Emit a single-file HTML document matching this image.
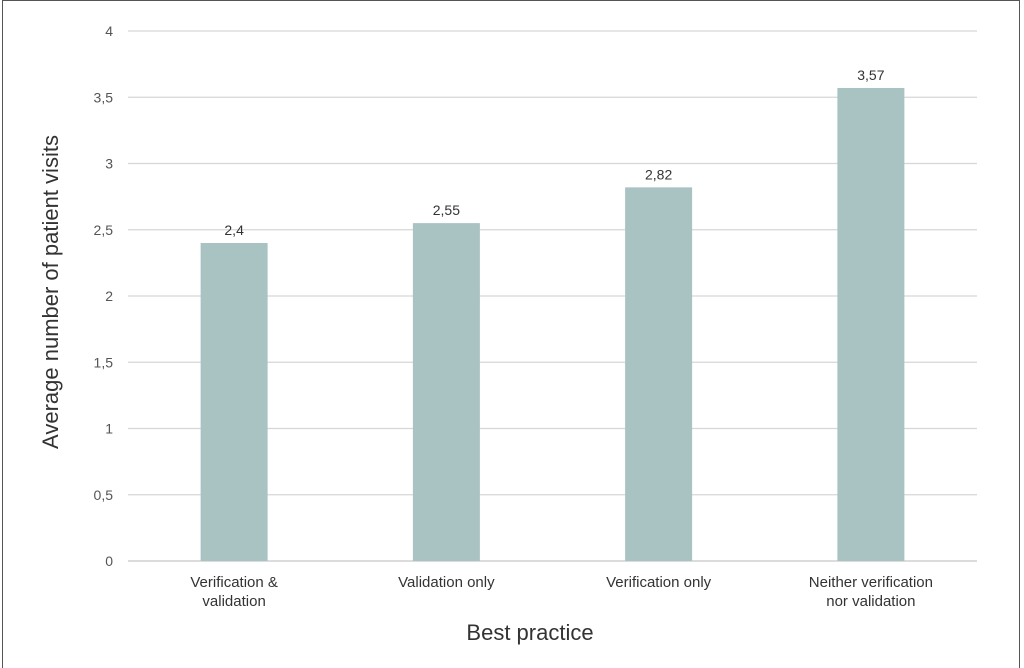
<!DOCTYPE html>
<html><head><meta charset="utf-8"><style>
body{margin:0;background:#fff;}
#wrap{position:relative;width:1024px;height:668px;overflow:hidden;font-family:"Liberation Sans",sans-serif;}
#frame{position:absolute;left:2px;top:0;width:1018px;height:680px;border:1.5px solid #555;box-sizing:border-box;}
</style></head><body>
<div id="wrap">
<div id="frame"></div>
<svg id="svg" width="1024" height="668" style="position:absolute;left:0;top:0"></svg>
</div>
<script>
const categories=[["Verification &","validation"],["Validation only"],["Verification only"],["Neither verification","nor validation"]];
const values=[2.4,2.55,2.82,3.57];
const valueLabels=["2,4","2,55","2,82","3,57"];
const ticks=[0,0.5,1,1.5,2,2.5,3,3.5,4];
const tickLabels=["0","0,5","1","1,5","2","2,5","3","3,5","4"];
const NS="http://www.w3.org/2000/svg";
const svg=document.getElementById('svg');
const x0=128,x1=977,y0=561,y1=31,ymax=4;
const y=v=>y0-(v/ymax)*(y0-y1);
const band=(x1-x0)/categories.length;
const xc=i=>x0+band*(i+0.5);
function mk(t,a,txt){const e=document.createElementNS(NS,t);for(const k in a)e.setAttribute(k,a[k]);if(txt!==undefined)e.textContent=txt;svg.appendChild(e);return e;}
ticks.forEach((t,i)=>{
 const g=mk('line',{x1:x0,x2:x1,y1:y(t),y2:y(t),stroke:t===0?'#c8c8c8':'#d6d6d6','stroke-width':1.2});
 
 
 const l=mk('text',{x:113,y:y(t)+5,'text-anchor':'end','font-size':14,fill:'#555'},tickLabels[i]);
 
 
});
values.forEach((v,i)=>{
 const w=67;
 const b=mk('rect',{x:xc(i)-w/2,y:y(v),width:w,height:y0-y(v),fill:'#a9c3c3'});
 
 
 const t=mk('text',{x:xc(i),y:y(v)-8,'text-anchor':'middle','font-size':14,fill:'#333'},valueLabels[i]);
 
 
 categories[i].forEach((line,j)=>{
  const c=mk('text',{x:xc(i),y:587+j*19,'text-anchor':'middle','font-size':15,fill:'#333'},line);
  
  
 });
});
const xt=mk('text',{x:530,y:640,'text-anchor':'middle','font-size':22,fill:'#333'},'Best practice');


const yt=mk('text',{x:58,y:292,'text-anchor':'middle','font-size':22,fill:'#333',transform:'rotate(-90 58 292)'},'Average number of patient visits');


</script>
</body></html>
